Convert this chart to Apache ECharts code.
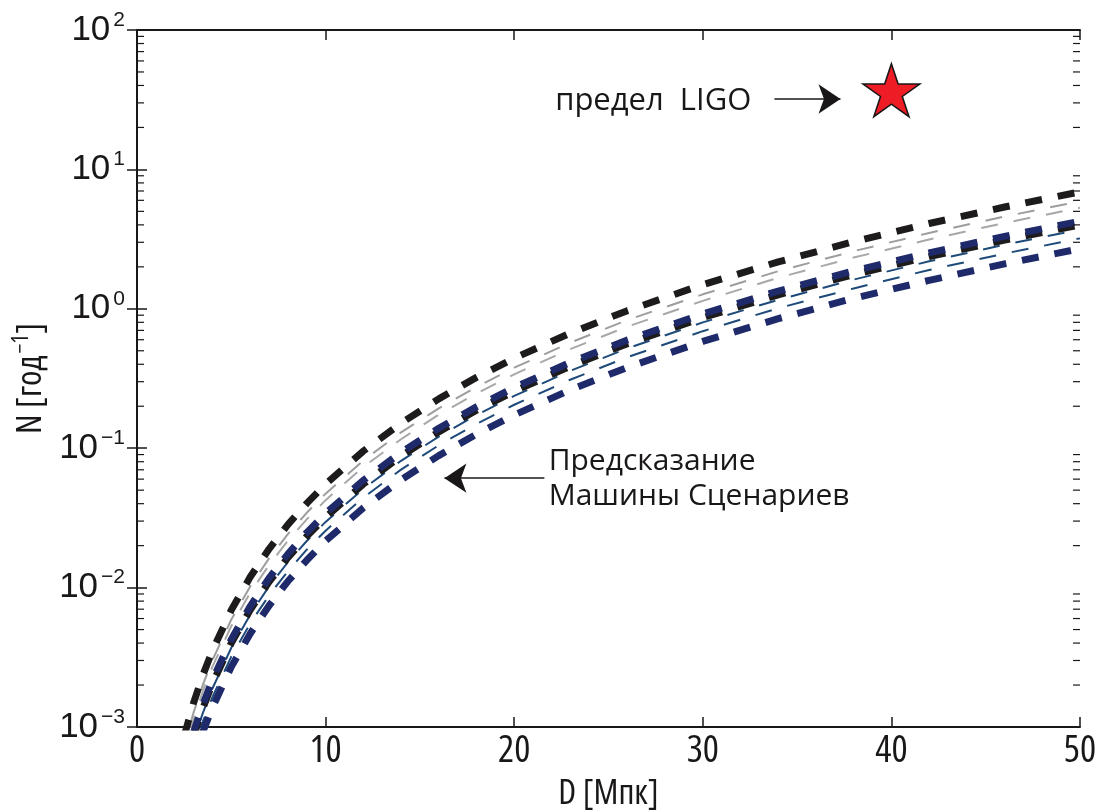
<!DOCTYPE html>
<html>
<head>
<meta charset="utf-8">
<script src="https://cdn.jsdelivr.net/npm/echarts@6/dist/echarts.min.js"></script>
<style>
  html, body { margin: 0; padding: 0; background: #fff; }
  #chart { width: 1105px; height: 812px; }
</style>
</head>
<body>
<div id="chart"></div>
<script>
// Distance D, Mpc
const distance = [2.5, 3, 3.5, 4, 5, 6, 7, 8, 9, 10, 12, 14, 16, 18, 20, 23, 26, 30, 34, 38, 42, 46, 50];

// Predicted event rates N [1/yr] for the scenario-machine model variants
const rateUpperBlack = [8.6e-4, 1.49e-3, 2.37e-3, 3.53e-3, 6.9e-3, 0.0119, 0.0189, 0.0283, 0.0402, 0.0552, 0.0954, 0.151, 0.226, 0.322, 0.442, 0.672, 0.970, 1.49, 2.17, 3.03, 4.09, 5.37, 6.9];
const rateGrayA = [7.4e-4, 1.27e-3, 2.02e-3, 3.02e-3, 5.9e-3, 0.0102, 0.0162, 0.0242, 0.0344, 0.0472, 0.0816, 0.130, 0.193, 0.275, 0.378, 0.574, 0.830, 1.27, 1.86, 2.59, 3.50, 4.59, 5.9];
const rateGrayB = [6.6e-4, 1.14e-3, 1.82e-3, 2.71e-3, 5.3e-3, 9.16e-3, 0.0145, 0.0217, 0.0309, 0.0424, 0.0733, 0.116, 0.174, 0.247, 0.339, 0.516, 0.745, 1.14, 1.67, 2.33, 3.14, 4.13, 5.3];
const rateMidBlack = [5.0e-4, 8.6e-4, 1.37e-3, 2.05e-3, 4.0e-3, 6.91e-3, 0.0110, 0.0164, 0.0233, 0.0320, 0.0553, 0.0878, 0.131, 0.187, 0.256, 0.389, 0.562, 0.864, 1.26, 1.76, 2.37, 3.11, 4.0];
const rateMidBlue = [5.3e-4, 9.2e-4, 1.46e-3, 2.18e-3, 4.25e-3, 7.34e-3, 0.0117, 0.0174, 0.0248, 0.0340, 0.0588, 0.0933, 0.139, 0.198, 0.272, 0.414, 0.598, 0.918, 1.34, 1.87, 2.52, 3.31, 4.25];
const rateThinBlueA = [4.6e-4, 8.0e-4, 1.27e-3, 1.89e-3, 3.7e-3, 6.39e-3, 0.0102, 0.0152, 0.0216, 0.0296, 0.0511, 0.0812, 0.121, 0.173, 0.237, 0.360, 0.520, 0.799, 1.16, 1.62, 2.19, 2.88, 3.7];
const rateThinBlueB = [4.0e-4, 6.9e-4, 1.10e-3, 1.64e-3, 3.2e-3, 5.53e-3, 8.78e-3, 0.0131, 0.0187, 0.0256, 0.0442, 0.0702, 0.105, 0.149, 0.205, 0.311, 0.450, 0.691, 1.01, 1.40, 1.90, 2.49, 3.2];
const rateLowerBlue = [3.4e-4, 5.8e-4, 9.3e-4, 1.38e-3, 2.7e-3, 4.67e-3, 7.41e-3, 0.0111, 0.0157, 0.0216, 0.0373, 0.0593, 0.0885, 0.126, 0.173, 0.263, 0.380, 0.583, 0.849, 1.19, 1.60, 2.10, 2.7];

// LIGO upper limit
const ligoLimit = [40, 37];

// Axis ranges and ticks
const xTicks = [0, 10, 20, 30, 40, 50];
const yMin = 1e-3, yMax = 1e2;
const yMinorTicks = [];
for (let e = -3; e < 2; e++) {
  for (let m = 2; m <= 9; m++) yMinorTicks.push(+(m * Math.pow(10, e)).toPrecision(3));
}

// Annotations
const ligoText = 'предел  LIGO';
const ligoArrow = [[33.8, 32], [37.3, 32]];
const modelText = 'Предсказание\nМашины Сценариев';
const modelArrow = [[21.6, 0.061], [16.3, 0.061]];

const INK = '#1a1718';
const FONT = '"Open Sans", "Noto Sans", sans-serif';
const NARROW = '"Open Sans", "DejaVu Sans Condensed", sans-serif';
const TICKFONT = '"Liberation Sans", "DejaVu Sans", sans-serif';
const SEMI = 'semi-condensed';

const zip = (xs, ys) => xs.map((x, i) => [x, ys[i]]);
const sup = v => {
  const e = Math.round(Math.log10(v));
  return '{b|10}{s|' + (e < 0 ? '\u2212' + (-e) : e) + '}';
};

function curve(name, ys, color, width, dash, offset, z) {
  return {
    name, type: 'line', data: zip(distance, ys), showSymbol: false, symbol: 'none',
    smooth: false, z: z, clip: true,
    lineStyle: { color, width, type: dash, dashOffset: offset, cap: 'butt' }
  };
}

function textNote(point, text, position, size) {
  return {
    type: 'scatter', z: 9, symbolSize: 1, data: [point],
    itemStyle: { color: 'rgba(0,0,0,0)', opacity: 1 },
    label: {
      show: true, position, distance: 0, formatter: text, opacity: 1,
      fontFamily: FONT, fontWeight: 500, fontSize: size, lineHeight: 35, color: INK, align: position === 'right' ? 'left' : 'right'
    }
  };
}

const frameAxis = {
  axisLine: { show: true, lineStyle: { color: INK, width: 2 } },
  axisTick: { show: true, inside: true, length: 10, lineStyle: { color: INK, width: 1.5 } },
  splitLine: { show: false }
};

const chart = echarts.init(document.getElementById('chart'), null, { renderer: 'canvas' });
chart.setOption({
  animation: false,
  backgroundColor: '#fff',
  grid: { left: 137, right: 25, top: 30, bottom: 85, containLabel: false, outerBoundsMode: 'none' },
  xAxis: [Object.assign({
    type: 'value', min: 0, max: 50, interval: 10,
    name: 'D [Мпк]', nameLocation: 'middle', nameGap: 50,
    nameTextStyle: { fontFamily: NARROW, fontWeight: SEMI, fontSize: 35, color: INK },
    axisLabel: { fontFamily: NARROW, fontWeight: SEMI, fontSize: 38, color: INK, margin: 5 }
  }, frameAxis), Object.assign({
    type: 'value', min: 0, max: 50, interval: 10, position: 'top',
    axisLabel: { show: false }
  }, frameAxis)],
  yAxis: [Object.assign({
    type: 'log', logBase: 10, min: yMin, max: yMax, splitNumber: 5,
    name: '{n|N [год}{s|\u22121}{n|]}', nameLocation: 'middle', nameGap: 84, nameRotate: 90,
    nameTextStyle: {
      fontFamily: NARROW, fontWeight: SEMI, fontSize: 35, color: INK,
      rich: {
        n: { fontFamily: NARROW, fontWeight: SEMI, fontSize: 35, color: INK },
        s: { fontFamily: NARROW, fontWeight: SEMI, fontSize: 23, color: INK, padding: [0, 0, 18, 2] }
      }
    },
    axisLabel: {
      margin: 12, formatter: sup,
      rich: {
        b: { fontFamily: TICKFONT, fontSize: 35, color: INK },
        s: { fontFamily: TICKFONT, fontSize: 21, color: INK, padding: [0, 0, 20, 3] }
      }
    }
  }, frameAxis), Object.assign({
    type: 'log', logBase: 10, min: yMin, max: yMax, splitNumber: 5, position: 'right',
    axisLabel: { show: false }
  }, frameAxis)],
  series: [
    curve('upper', rateUpperBlack, '#1d1b1b', 7, [17, 16], 0, 5),
    curve('grayA', rateGrayA, '#9d9d9d', 2, [17, 16], 8, 4),
    curve('grayB', rateGrayB, '#a8a8a8', 2, [17, 16], 12, 4),
    curve('midShadow', rateMidBlack, '#1d1b1b', 7, [17, 16], 0, 5),
    curve('mid', rateMidBlue, '#1f2a6b', 7, [17, 16], 0, 6),
    curve('thinBlueA', rateThinBlueA, '#1e4a7a', 2, [17, 16], 10, 4),
    curve('thinBlueB', rateThinBlueB, '#1e4a7a', 2, [17, 16], 14, 4),
    curve('lower', rateLowerBlue, '#1f2a6b', 7, [17, 16], 4, 6),
    {
      // minor log ticks on both vertical frame edges
      type: 'custom', xAxisIndex: 0, yAxisIndex: 0, z: 10, silent: true, clip: false,
      data: yMinorTicks.map(v => [0, v]),
      renderItem: (params, api) => {
        const p = api.coord([0, api.value(1)]);
        const cs = params.coordSys;
        const style = { stroke: INK, lineWidth: 1.2 };
        return {
          type: 'group', children: [
            { type: 'line', shape: { x1: cs.x, y1: p[1], x2: cs.x + 7, y2: p[1] }, style },
            { type: 'line', shape: { x1: cs.x + cs.width - 7, y1: p[1], x2: cs.x + cs.width, y2: p[1] }, style }
          ]
        };
      }
    },
    {
      type: 'scatter', data: [ligoLimit], z: 8,
      symbol: 'path://M50,0 L61.23,34.55 L97.55,34.55 L68.17,55.9 L79.39,90.45 L50,69.1 L20.61,90.45 L31.83,55.9 L2.45,34.55 L38.77,34.55 Z',
      symbolSize: [57, 53],
      itemStyle: { color: '#ee1c25', opacity: 1, borderColor: INK, borderWidth: 1.5 }
    },
    {
      type: 'lines', coordinateSystem: 'cartesian2d', xAxisIndex: 0, yAxisIndex: 0, z: 8,
      symbol: ['none', 'arrow'], symbolSize: [16, 22],
      lineStyle: { color: INK, width: 1.6, opacity: 1 },
      data: [{ coords: ligoArrow }, { coords: modelArrow }]
    },
    textNote([ligoArrow[0][0] - 1.2, 31], ligoText, 'left', 31),
    textNote([21.8, 0.06], modelText, 'right', 30)
  ]
});
</script>
</body>
</html>
